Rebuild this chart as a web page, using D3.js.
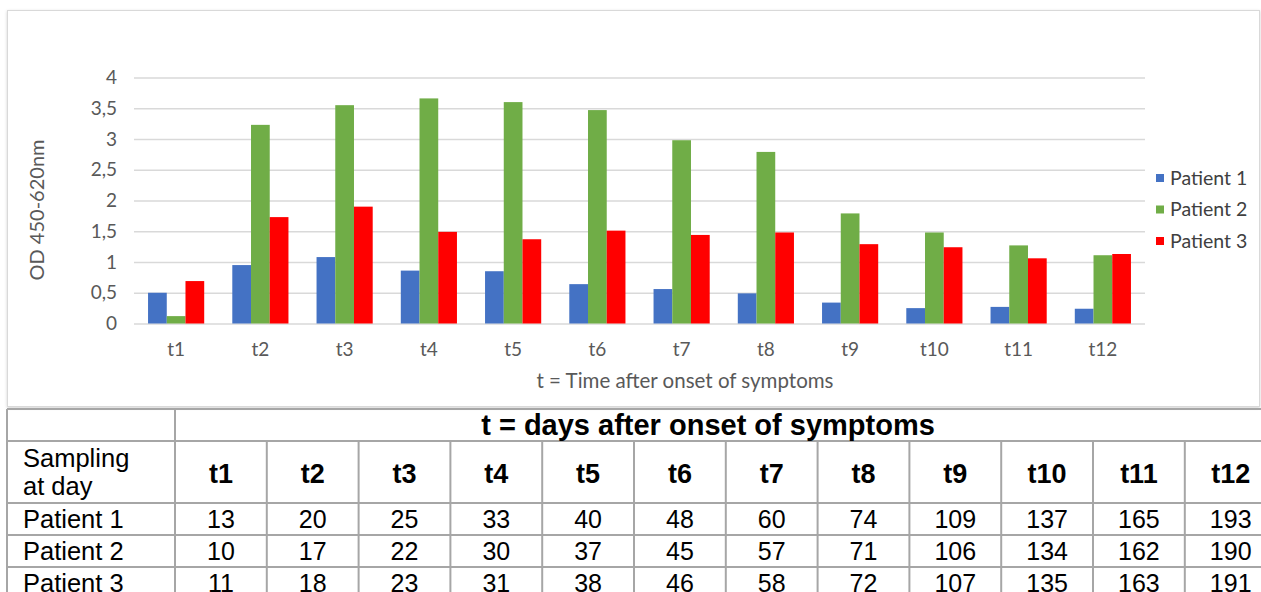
<!DOCTYPE html>
<html>
<head>
<meta charset="utf-8">
<script src="https://cdn.jsdelivr.net/npm/d3@7"></script>
<style>
  html, body { margin: 0; padding: 0; background: #fff; }
  svg { display: block; }
</style>
</head>
<body>
<div id="chart"></div>
<script>
// chart data (OD values)
const categories = ['t1', 't2', 't3', 't4', 't5', 't6', 't7', 't8', 't9', 't10', 't11', 't12'];
const seriesNames = ['Patient 1', 'Patient 2', 'Patient 3'];
const patient1 = [0.50, 0.95, 1.08, 0.86, 0.85, 0.64, 0.56, 0.49, 0.34, 0.25, 0.27, 0.24];
const patient2 = [0.12, 3.23, 3.55, 3.66, 3.60, 3.47, 2.98, 2.79, 1.79, 1.48, 1.27, 1.11];
const patient3 = [0.69, 1.73, 1.90, 1.49, 1.37, 1.51, 1.44, 1.48, 1.29, 1.24, 1.06, 1.13];
const yTicks = [0, 0.5, 1, 1.5, 2, 2.5, 3, 3.5, 4];
const seriesColors = ['#4472c4', '#70ad47', '#ff0000'];

// table under the chart (sampling days)
const tableTitle = 't = days after onset of symptoms';
const rowHeaderLines = ['Sampling', 'at day'];
const daysPatient1 = [13, 20, 25, 33, 40, 48, 60, 74, 109, 137, 165, 193];
const daysPatient2 = [10, 17, 22, 30, 37, 45, 57, 71, 106, 134, 162, 190];
const daysPatient3 = [11, 18, 23, 31, 38, 46, 58, 72, 107, 135, 163, 191];

const W = 1261, H = 592;
const chartFont = 'Lato, "Liberation Sans", sans-serif';
const tableFont = '"Liberation Sans", Arial, sans-serif';
const axisGrey = '#595959';

const svg = d3.select('#chart').append('svg')
  .attr('width', W)
  .attr('height', H);

const defs = svg.append('defs');
const shadow = defs.append('filter').attr('id', 'shadow')
  .attr('x', '-2%').attr('y', '-2%').attr('width', '104%').attr('height', '106%');
shadow.append('feDropShadow')
  .attr('dx', 0).attr('dy', 1).attr('stdDeviation', 1.5)
  .attr('flood-color', '#000').attr('flood-opacity', 0.18);

// chart frame
svg.append('rect')
  .attr('x', 7.5).attr('y', 10.5)
  .attr('width', 1252).attr('height', 396)
  .attr('fill', '#fff')
  .attr('stroke', '#d9d9d9')
  .attr('filter', 'url(#shadow)');

// plot area
const plot = { left: 134, right: 1145, top: 77.5, bottom: 323.5 };

const x0 = d3.scaleBand()
  .domain(categories)
  .range([plot.left, plot.right])
  .paddingInner(1 / 3)
  .paddingOuter(1 / 6);

const x1 = d3.scaleBand()
  .domain(seriesNames)
  .range([0, x0.bandwidth()]);

const y = d3.scaleLinear()
  .domain([0, 4])
  .range([plot.bottom, plot.top]);

const fmt = d => String(d).replace('.', ',');

// gridlines
const grid = svg.append('g')
  .attr('transform', `translate(${plot.left},0)`)
  .call(d3.axisLeft(y).tickValues(yTicks).tickSize(-(plot.right - plot.left)).tickFormat(''));
grid.select('.domain').remove();
grid.selectAll('line').attr('stroke', '#d9d9d9').attr('stroke-width', 1.5);

// y tick labels
const yAxis = svg.append('g')
  .attr('transform', `translate(${plot.left - 17},0)`)
  .call(d3.axisLeft(y).tickValues(yTicks).tickSize(0).tickPadding(0).tickFormat(fmt));
yAxis.select('.domain').remove();
yAxis.selectAll('text')
  .attr('fill', axisGrey)
  .style('font-family', chartFont)
  .style('font-size', '19px');

// bars
const rows = categories.map((c, i) => ({
  cat: c,
  values: [patient1[i], patient2[i], patient3[i]]
}));

svg.append('g').selectAll('g')
  .data(rows)
  .join('g')
  .attr('transform', d => `translate(${x0(d.cat)},0)`)
  .selectAll('rect')
  .data(d => d.values.map((v, j) => ({ name: seriesNames[j], value: v, color: seriesColors[j] })))
  .join('rect')
  .attr('x', d => x1(d.name))
  .attr('width', x1.bandwidth())
  .attr('y', d => y(d.value))
  .attr('height', d => y(0) - y(d.value))
  .attr('fill', d => d.color);

// x axis labels
const xAxis = svg.append('g')
  .attr('transform', `translate(0,${plot.bottom})`)
  .call(d3.axisBottom(x0).tickSize(0).tickPadding(19));
xAxis.select('.domain').remove();
xAxis.selectAll('text')
  .attr('fill', axisGrey)
  .style('font-family', chartFont)
  .style('font-size', '19px');

// axis titles
svg.append('text')
  .attr('x', 685)
  .attr('y', 388)
  .attr('text-anchor', 'middle')
  .attr('fill', axisGrey)
  .style('font-family', chartFont)
  .style('font-size', '20.5px')
  .text('t = Time after onset of symptoms');

svg.append('text')
  .attr('transform', 'translate(44,210) rotate(-90)')
  .attr('text-anchor', 'middle')
  .attr('fill', axisGrey)
  .style('font-family', chartFont)
  .style('font-size', '20px')
  .text('OD 450-620nm');

// legend
const legendY = d3.scalePoint().domain(seriesNames).range([178, 241]);
const legend = svg.append('g').selectAll('g')
  .data(seriesNames)
  .join('g')
  .attr('transform', d => `translate(1156,${legendY(d)})`);
legend.append('rect')
  .attr('x', 0).attr('y', -4)
  .attr('width', 8).attr('height', 8)
  .attr('fill', (d, i) => seriesColors[i]);
legend.append('text')
  .attr('x', 14)
  .attr('dy', '0.35em')
  .attr('fill', '#404040')
  .style('font-family', chartFont)
  .style('font-size', '19.5px')
  .text(d => d);

// ---- table ----
const tableLeft = 7, firstColRight = 175, colW = 91.8;
const rowLines = [409, 441, 503, 535, 567, 599];
const colX = d3.scaleBand()
  .domain(categories)
  .range([firstColRight, firstColRight + colW * categories.length]);
const tableRight = firstColRight + colW * categories.length;

const table = svg.append('g');
const lineColor = '#a6a6a6';

// horizontal rules
table.selectAll('line.h')
  .data(rowLines)
  .join('line')
  .attr('class', 'h')
  .attr('x1', tableLeft).attr('x2', tableRight)
  .attr('y1', d => d).attr('y2', d => d)
  .attr('stroke', lineColor).attr('stroke-width', 2);

// vertical rules: outer left, first column, and column dividers below the title row
table.append('line')
  .attr('x1', tableLeft).attr('x2', tableLeft)
  .attr('y1', rowLines[0]).attr('y2', H)
  .attr('stroke', lineColor).attr('stroke-width', 2);
table.append('line')
  .attr('x1', firstColRight).attr('x2', firstColRight)
  .attr('y1', rowLines[0]).attr('y2', H)
  .attr('stroke', lineColor).attr('stroke-width', 2);
table.selectAll('line.v')
  .data(categories)
  .join('line')
  .attr('class', 'v')
  .attr('x1', d => colX(d) + colW)
  .attr('x2', d => colX(d) + colW)
  .attr('y1', rowLines[1]).attr('y2', H)
  .attr('stroke', lineColor).attr('stroke-width', 2);

// title row
table.append('text')
  .attr('x', 708)
  .attr('y', 435)
  .attr('text-anchor', 'middle')
  .style('font-family', tableFont)
  .style('font-size', '29px')
  .style('font-weight', 'bold')
  .text(tableTitle);

// sampling row
table.append('text')
  .style('font-family', tableFont)
  .style('font-size', '25.5px')
  .selectAll('tspan')
  .data(rowHeaderLines)
  .join('tspan')
  .attr('x', 23)
  .attr('y', (d, i) => 467 + i * 28)
  .text(d => d);

table.selectAll('text.tlabel')
  .data(categories)
  .join('text')
  .attr('class', 'tlabel')
  .attr('x', d => colX(d) + colW / 2)
  .attr('y', 483)
  .attr('text-anchor', 'middle')
  .style('font-family', tableFont)
  .style('font-size', '27px')
  .style('font-weight', 'bold')
  .text(d => d);

// patient rows
const dayRows = [daysPatient1, daysPatient2, daysPatient3];
dayRows.forEach((vals, r) => {
  const base = rowLines[r + 2] + 25;
  table.append('text')
    .attr('x', 23)
    .attr('y', base)
    .style('font-family', tableFont)
    .style('font-size', '25.5px')
    .text(seriesNames[r]);
  table.selectAll(null)
    .data(vals)
    .join('text')
    .attr('x', (d, i) => colX(categories[i]) + colW / 2)
    .attr('y', base)
    .attr('text-anchor', 'middle')
    .style('font-family', tableFont)
    .style('font-size', '25px')
    .text(d => d);
});
</script>
</body>
</html>
